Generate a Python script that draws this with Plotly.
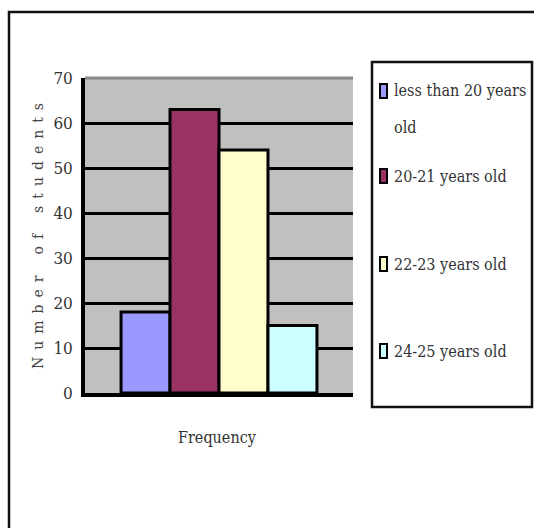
import plotly.graph_objects as go

# ---- data ----
categories = ["Frequency"]
series_names = ["less than 20 years old", "20-21 years old", "22-23 years old", "24-25 years old"]
legend_lines = [["less than 20 years", "old"], ["20-21 years old"], ["22-23 years old"], ["24-25 years old"]]
series_values = [18, 63, 54, 15]
series_colors = ["#9999FF", "#993366", "#FFFFCC", "#CCFFFF"]
y_ticks = [0, 10, 20, 30, 40, 50, 60, 70]
y_title = "Number of students"
x_title = "Frequency"

# ---- layout geometry (pixels) ----
W, H = 534, 528
L, R, T, B = 85, 353, 78, 393

def px(x):
    return (x - L) / (R - L)

def py(y):
    return (B - y) / (B - T)

SERIF = "DejaVu Serif Condensed, Liberation Sans Narrow, DejaVu Serif"
TXT = "#333333"

fig = go.Figure()
for name, val, col in zip(series_names, series_values, series_colors):
    fig.add_trace(go.Bar(
        x=categories, y=[val], name=name,
        marker=dict(color=col, line=dict(color="black", width=3)),
        showlegend=False,
    ))

shapes = []
annotations = []

# outer chart border (runs off the right and bottom edges)
shapes.append(dict(type="rect", xref="paper", yref="paper",
                   x0=px(9), x1=px(560), y0=py(560), y1=py(12),
                   line=dict(color="#111111", width=2.5), fillcolor="rgba(0,0,0,0)", layer="above"))
# gray top edge of plot area
shapes.append(dict(type="line", xref="paper", yref="paper",
                   x0=0, x1=1, y0=1, y1=1,
                   line=dict(color="#8a8a8a", width=3), layer="above"))

# legend box
shapes.append(dict(type="rect", xref="paper", yref="paper",
                   x0=px(372), x1=px(532), y0=py(407), y1=py(62),
                   line=dict(color="#111111", width=2.5), fillcolor="white", layer="below"))
legend_item_y = [91, 176, 264, 351]
line_gap = 36
for lines, col, yc in zip(legend_lines, series_colors, legend_item_y):
    shapes.append(dict(type="rect", xref="paper", yref="paper",
                       x0=px(380), x1=px(387), y0=py(yc + 7), y1=py(yc - 7),
                       line=dict(color="black", width=2), fillcolor=col, layer="above"))
    for i, ln in enumerate(lines):
        annotations.append(dict(xref="paper", yref="paper", x=px(392), y=py(yc + i * line_gap),
                                text=ln, showarrow=False, xanchor="left", yanchor="middle",
                                font=dict(family=SERIF, size=16, color=TXT)))

# y-axis title (letter-spaced, rotated)
spaced = "\u2002\u2002\u2002".join("\u2002".join(w) for w in y_title.split(" "))
annotations.append(dict(xref="paper", yref="paper", x=px(38), y=py(236), text=spaced,
                        textangle=-90, showarrow=False, xanchor="center", yanchor="middle",
                        font=dict(family="DejaVu Serif", size=14, color="#444444")))
# x-axis title
annotations.append(dict(xref="paper", yref="paper", x=px(217), y=py(437), text=x_title,
                        showarrow=False, xanchor="center", yanchor="middle",
                        font=dict(family=SERIF, size=16, color=TXT)))

fig.update_layout(
    width=W, height=H,
    margin=dict(l=L, r=W - R, t=T, b=H - B, pad=0),
    paper_bgcolor="white", plot_bgcolor="#C0C0C0",
    barmode="group", bargap=0.269, bargroupgap=0,
    shapes=shapes, annotations=annotations,
    xaxis=dict(range=[-0.5, 0.5], showticklabels=False, ticks="", showgrid=False,
               zeroline=False, showline=True, linecolor="black", linewidth=3.5, fixedrange=True),
    yaxis=dict(range=[0, 70], tickvals=y_ticks, ticktext=[str(v) for v in y_ticks],
               showgrid=True, gridcolor="black", gridwidth=3, zeroline=False,
               showline=True, linecolor="black", linewidth=3.5,
               ticks="outside", ticklen=5, tickcolor="rgba(0,0,0,0)",
               tickfont=dict(family=SERIF, size=17, color=TXT), fixedrange=True),
)

fig.write_html("out.html")
